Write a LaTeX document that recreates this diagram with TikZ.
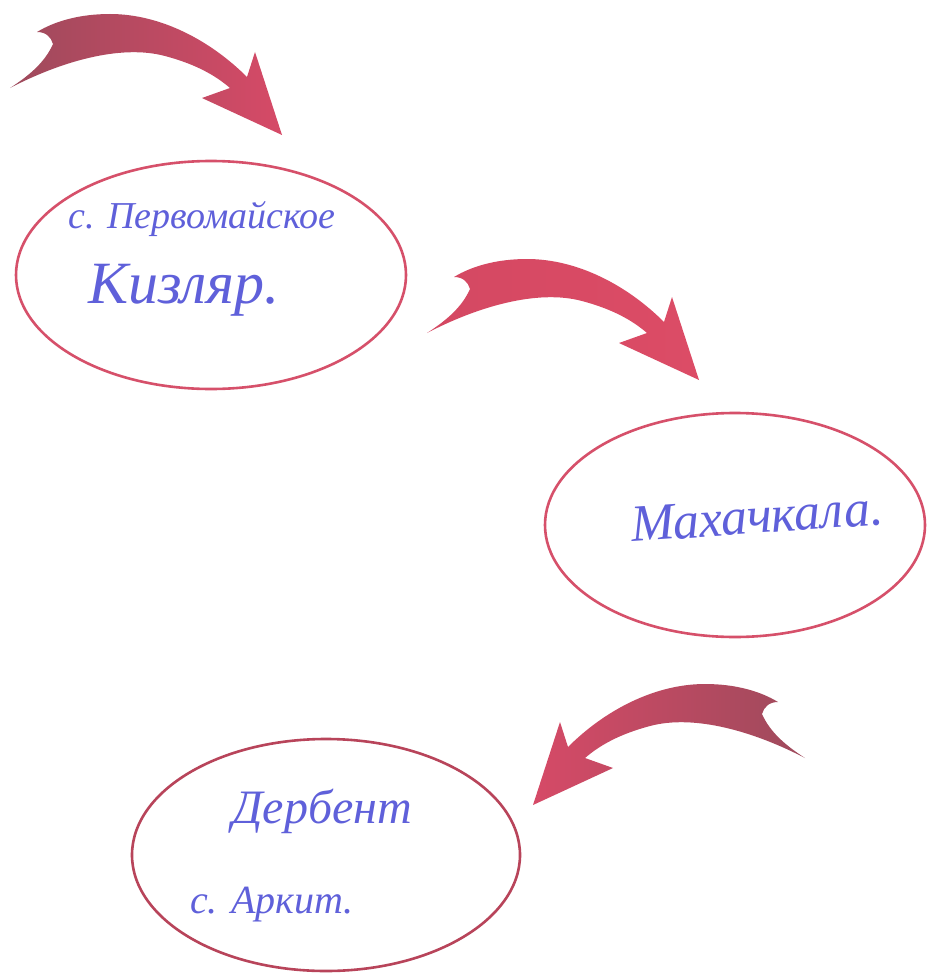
\documentclass[tikz,border=0pt]{standalone}
\usepackage{fontspec}
\setmainfont{Liberation Serif}
\usetikzlibrary{shapes.geometric}
\definecolor{ink}{HTML}{5F60DA}
\definecolor{ringA}{HTML}{D6506A}
\definecolor{ringB}{HTML}{B8445A}
\definecolor{darkA}{HTML}{9E4A5C}
\definecolor{headA}{HTML}{D64A67}
\definecolor{pinkA}{HTML}{D44862}
\definecolor{pinkB}{HTML}{DC4C66}
\newcommand\bigarrow[3]{%
  \shade[left color=#1,right color=#2,#3]
    (10,88) .. controls (60,62) and (120,44) .. (165,56)
    .. controls (195,64) and (215,75) .. (230,88)
    -- (202,98) -- (282,135) -- (255,52) -- (247,77)
    .. controls (210,40) and (160,14) .. (110,14)
    .. controls (80,14) and (55,21) .. (37,32)
    .. controls (46,32) and (51,37) .. (53,44)
    .. controls (45,62) and (30,75) .. (10,88) -- cycle;}
\tikzset{
  ring/.style={ellipse, draw=#1, line width=2.6pt, inner sep=0pt},
  hand/.style={text=ink, font=\itshape, inner sep=0pt, anchor=base west}
}
\begin{document}
\begin{tikzpicture}[x=1pt,y=-1pt]
\useasboundingbox[fill=white] (0,0) rectangle (927,974);
% ellipses
\node[ring=ringA, minimum width=390pt, minimum height=228pt] (e1) at (211,275) {};
\node[ring=ringA, minimum width=380pt, minimum height=224pt] (e2) at (735,525) {};
\node[ring=ringB, minimum width=388pt, minimum height=232pt] (e3) at (326,855) {};
% arrows
\bigarrow{darkA}{headA}{}
\bigarrow{pinkA}{pinkB}{shift={(417,245)}}
\bigarrow{headA}{darkA}{shift={(815,670)},xscale=-1}
% texts
\node[hand, font=\itshape\fontsize{38}{42}\selectfont] (t1) at (68,228) {с. Первомайское};
\node[hand, font=\itshape\fontsize{60}{64}\selectfont] (t2) at (88,303) {Кизляр.};
\node[hand, font=\itshape\fontsize{52}{56}\selectfont, rotate=4] (t3) at (632,542) {Махачкала.};
\node[hand, font=\itshape\fontsize{48}{52}\selectfont] (t4) at (232,823) {Дербент};
\node[hand, font=\itshape\fontsize{40}{44}\selectfont] (t5) at (190,913) {с. Аркит.};
\end{tikzpicture}
\end{document}
